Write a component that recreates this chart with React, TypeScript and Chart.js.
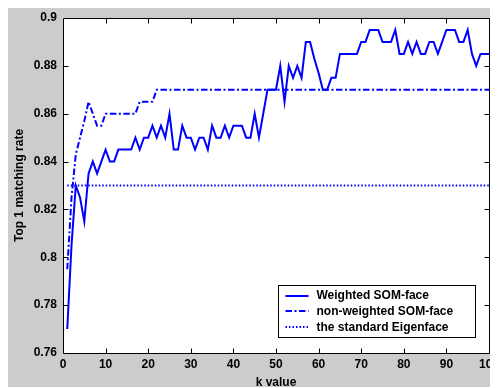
import { useEffect, useRef } from 'react';
import { Chart, registerables } from 'chart.js';

Chart.register(...registerables);

const kValues = [
  1, 2, 3, 4, 5, 6, 7, 8, 9, 10,
  11, 12, 13, 14, 15, 16, 17, 18, 19, 20,
  21, 22, 23, 24, 25, 26, 27, 28, 29, 30,
  31, 32, 33, 34, 35, 36, 37, 38, 39, 40,
  41, 42, 43, 44, 45, 46, 47, 48, 49, 50,
  51, 52, 53, 54, 55, 56, 57, 58, 59, 60,
  61, 62, 63, 64, 65, 66, 67, 68, 69, 70,
  71, 72, 73, 74, 75, 76, 77, 78, 79, 80,
  81, 82, 83, 84, 85, 86, 87, 88, 89, 90,
  91, 92, 93, 94, 95, 96, 97, 98, 99, 100,
];

const weightedSOM = [
  0.77, 0.805, 0.83, 0.825, 0.815, 0.835, 0.84, 0.835, 0.84, 0.845,
  0.84, 0.84, 0.845, 0.845, 0.845, 0.845, 0.85, 0.845, 0.85, 0.85,
  0.855, 0.85, 0.855, 0.85, 0.86, 0.845, 0.845, 0.855, 0.85, 0.85,
  0.845, 0.85, 0.85, 0.845, 0.855, 0.85, 0.85, 0.855, 0.85, 0.855,
  0.855, 0.855, 0.85, 0.85, 0.86, 0.85, 0.86, 0.87, 0.87, 0.87,
  0.88, 0.865, 0.88, 0.875, 0.88, 0.875, 0.89, 0.89, 0.883, 0.877,
  0.87, 0.87, 0.875, 0.875, 0.885, 0.885, 0.885, 0.885, 0.885, 0.89,
  0.89, 0.895, 0.895, 0.895, 0.89, 0.89, 0.89, 0.895, 0.885, 0.885,
  0.89, 0.885, 0.89, 0.885, 0.885, 0.89, 0.89, 0.885, 0.89, 0.895,
  0.895, 0.895, 0.89, 0.89, 0.895, 0.885, 0.88, 0.885, 0.885, 0.885,
];

const nonWeightedSOM = [
  0.795, 0.825, 0.843, 0.85, 0.857, 0.865, 0.86, 0.855, 0.855, 0.86,
  0.86, 0.86, 0.86, 0.86, 0.86, 0.86, 0.86, 0.865, 0.865, 0.865,
  0.865, 0.87, 0.87, 0.87, 0.87, 0.87, 0.87, 0.87, 0.87, 0.87,
  0.87, 0.87, 0.87, 0.87, 0.87, 0.87, 0.87, 0.87, 0.87, 0.87,
  0.87, 0.87, 0.87, 0.87, 0.87, 0.87, 0.87, 0.87, 0.87, 0.87,
  0.87, 0.87, 0.87, 0.87, 0.87, 0.87, 0.87, 0.87, 0.87, 0.87,
  0.87, 0.87, 0.87, 0.87, 0.87, 0.87, 0.87, 0.87, 0.87, 0.87,
  0.87, 0.87, 0.87, 0.87, 0.87, 0.87, 0.87, 0.87, 0.87, 0.87,
  0.87, 0.87, 0.87, 0.87, 0.87, 0.87, 0.87, 0.87, 0.87, 0.87,
  0.87, 0.87, 0.87, 0.87, 0.87, 0.87, 0.87, 0.87, 0.87, 0.87,
];

const eigenface = [
  0.83, 0.83, 0.83, 0.83, 0.83, 0.83, 0.83, 0.83, 0.83, 0.83,
  0.83, 0.83, 0.83, 0.83, 0.83, 0.83, 0.83, 0.83, 0.83, 0.83,
  0.83, 0.83, 0.83, 0.83, 0.83, 0.83, 0.83, 0.83, 0.83, 0.83,
  0.83, 0.83, 0.83, 0.83, 0.83, 0.83, 0.83, 0.83, 0.83, 0.83,
  0.83, 0.83, 0.83, 0.83, 0.83, 0.83, 0.83, 0.83, 0.83, 0.83,
  0.83, 0.83, 0.83, 0.83, 0.83, 0.83, 0.83, 0.83, 0.83, 0.83,
  0.83, 0.83, 0.83, 0.83, 0.83, 0.83, 0.83, 0.83, 0.83, 0.83,
  0.83, 0.83, 0.83, 0.83, 0.83, 0.83, 0.83, 0.83, 0.83, 0.83,
  0.83, 0.83, 0.83, 0.83, 0.83, 0.83, 0.83, 0.83, 0.83, 0.83,
  0.83, 0.83, 0.83, 0.83, 0.83, 0.83, 0.83, 0.83, 0.83, 0.83,
];

const seriesLabels = ['Weighted SOM-face', 'non-weighted SOM-face', 'the standard Eigenface'];
const xTitle = 'k value';
const yTitle = 'Top 1 matching rate';

const FONT = "'Liberation Sans', Arial, Helvetica, sans-serif";
const BLUE = '#0000ff';
const DASH_DOT = [6.5, 2.5, 2, 2.5];
const DOTTED = [1.5, 2];

const toPoints = (ys: number[]) => kValues.map((k, i) => ({ x: k, y: ys[i] }));

const matlabAxes = {
  id: 'matlabAxes',
  beforeDatasetsDraw(chart: any) {
    const { ctx, chartArea } = chart;
    ctx.save();
    ctx.fillStyle = '#ffffff';
    ctx.fillRect(chartArea.left, chartArea.top, chartArea.right - chartArea.left, chartArea.bottom - chartArea.top);
    ctx.restore();
  },
  afterDatasetsDraw(chart: any) {
    const { ctx, chartArea, scales } = chart;
    const { left, right, top, bottom } = chartArea;
    const L = Math.round(left) + 0.5;
    const R = Math.round(right) + 0.5;
    const T = Math.round(top) + 0.5;
    const B = Math.round(bottom) + 0.5;
    ctx.save();
    ctx.strokeStyle = '#000000';
    ctx.lineWidth = 1;
    ctx.setLineDash([]);
    ctx.beginPath();
    ctx.moveTo(L, T);
    ctx.lineTo(R, T);
    ctx.lineTo(R, B);
    ctx.lineTo(L, B);
    ctx.closePath();
    ctx.stroke();
    const len = 5;
    ctx.beginPath();
    scales.x.ticks.forEach((t: any) => {
      const px = Math.round(scales.x.getPixelForValue(t.value)) + 0.5;
      if (px <= L + 1 || px >= R - 1) return;
      ctx.moveTo(px, B);
      ctx.lineTo(px, B - len);
      ctx.moveTo(px, T);
      ctx.lineTo(px, T + len);
    });
    scales.y.ticks.forEach((t: any) => {
      const py = Math.round(scales.y.getPixelForValue(t.value)) + 0.5;
      if (py <= T + 1 || py >= B - 1) return;
      ctx.moveTo(L, py);
      ctx.lineTo(L + len, py);
      ctx.moveTo(R, py);
      ctx.lineTo(R - len, py);
    });
    ctx.stroke();
    ctx.restore();
  },
  afterDraw(chart: any) {
    const { ctx, chartArea } = chart;
    const w = 197;
    const h = 52;
    const x0 = Math.round(chartArea.right - 14 - w) + 0.5;
    const y0 = Math.round(chartArea.bottom - 16 - h) + 0.5;
    ctx.save();
    ctx.fillStyle = '#ffffff';
    ctx.fillRect(x0, y0, w, h);
    ctx.strokeStyle = '#000000';
    ctx.lineWidth = 1;
    ctx.setLineDash([]);
    ctx.strokeRect(x0, y0, w, h);
    ctx.font = `bold 12px ${FONT}`;
    ctx.textBaseline = 'middle';
    ctx.textAlign = 'left';
    chart.data.datasets.forEach((ds: any, i: number) => {
      const cy = y0 + 10 + i * 15.8;
      ctx.strokeStyle = ds.borderColor;
      ctx.lineWidth = ds.borderWidth;
      ctx.setLineDash(ds.borderDash || []);
      ctx.beginPath();
      ctx.moveTo(x0 + 7, Math.round(cy));
      ctx.lineTo(x0 + 30, Math.round(cy));
      ctx.stroke();
      ctx.fillStyle = '#000000';
      ctx.fillText(ds.label, x0 + 38, cy + 0.5);
    });
    ctx.restore();
  },
};

export default function App() {
  const ref = useRef<HTMLCanvasElement | null>(null);

  useEffect(() => {
    if (!ref.current) return;
    const tickFont = { family: FONT, size: 12, weight: 'bold' as const };
    const chart = new Chart(ref.current, {
      type: 'line',
      data: {
        datasets: [
          {
            label: seriesLabels[0],
            data: toPoints(weightedSOM),
            borderColor: BLUE,
            borderWidth: 2,
            pointRadius: 0,
            tension: 0,
            fill: false,
          },
          {
            label: seriesLabels[1],
            data: toPoints(nonWeightedSOM),
            borderColor: BLUE,
            borderWidth: 2,
            borderDash: DASH_DOT,
            pointRadius: 0,
            tension: 0,
            fill: false,
          },
          {
            label: seriesLabels[2],
            data: toPoints(eigenface),
            borderColor: BLUE,
            borderWidth: 2,
            borderDash: DOTTED,
            pointRadius: 0,
            tension: 0,
            fill: false,
          },
        ],
      },
      options: {
        responsive: false,
        animation: false,
        layout: { padding: { top: 10, right: 9, left: 0, bottom: 0 } },
        plugins: {
          legend: { display: false },
          tooltip: { enabled: false },
        },
        scales: {
          x: {
            type: 'linear',
            min: 0,
            max: 100,
            grid: { display: false, drawTicks: false },
            border: { display: false },
            ticks: {
              stepSize: 10,
              color: '#000000',
              font: tickFont,
              padding: 4,
              maxRotation: 0,
              autoSkip: false,
            },
            title: {
              display: true,
              text: xTitle,
              color: '#000000',
              font: { family: FONT, size: 12, weight: 'bold', lineHeight: 0.8 },
              padding: { top: 0, bottom: 0 },
            },
            afterFit(scale: any) {
              scale.height = 34;
              scale.paddingLeft = 0;
              scale.paddingRight = 0;
            },
          },
          y: {
            type: 'linear',
            min: 0.76,
            max: 0.9,
            grid: { display: false, drawTicks: false },
            border: { display: false },
            ticks: {
              stepSize: 0.02,
              color: '#000000',
              font: tickFont,
              padding: 6,
              autoSkip: false,
              callback: (v: any) => String(parseFloat(Number(v).toFixed(2))),
            },
            title: {
              display: true,
              text: yTitle,
              color: '#000000',
              font: { family: FONT, size: 12, weight: 'bold' },
              padding: { top: 4, bottom: 0 },
            },
            afterFit(scale: any) {
              scale.width = 55;
              scale.paddingTop = 0;
              scale.paddingBottom = 0;
            },
          },
        },
      },
      plugins: [matlabAxes],
    });
    return () => chart.destroy();
  }, []);

  return (
    <div style={{ width: 490, height: 379, background: '#cccccc' }}>
      <canvas ref={ref} width={490} height={379} style={{ display: 'block' }} />
    </div>
  );
}
